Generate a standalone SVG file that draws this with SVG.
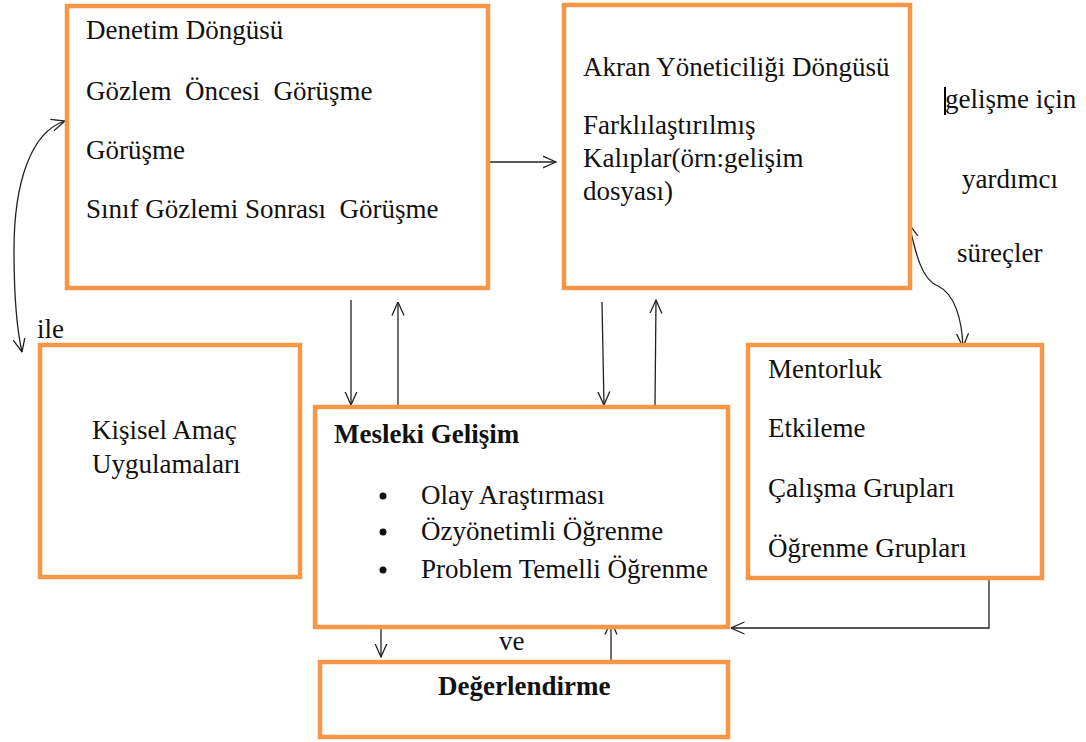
<svg xmlns="http://www.w3.org/2000/svg" width="1086" height="742" viewBox="0 0 1086 742">
<style>
.box{fill:#fff;stroke:#F79646;stroke-width:4.5}
text{font-family:"Liberation Serif","Times New Roman",serif;font-size:27px;fill:#111}
.b{font-weight:bold}
.c{fill:none;stroke:#222;stroke-width:1.3}
</style>
<defs>
<marker id="a" viewBox="0 0 14 14" refX="13.5" refY="7" markerWidth="14" markerHeight="14" markerUnits="userSpaceOnUse" orient="auto-start-reverse">
<path d="M0,1 L13.5,7 L0,13" fill="none" stroke="#222" stroke-width="1.3"/>
</marker>
</defs>
<rect width="1086" height="742" fill="#fff"/>
<g id="connectors">
<line class="c" x1="490" y1="162" x2="556" y2="162" marker-end="url(#a)"/>
<line class="c" x1="351" y1="300" x2="351" y2="405" marker-end="url(#a)"/>
<line class="c" x1="398" y1="406" x2="398" y2="302" marker-end="url(#a)"/>
<line class="c" x1="602" y1="302" x2="604" y2="405" marker-end="url(#a)"/>
<line class="c" x1="655" y1="406" x2="656" y2="300" marker-end="url(#a)"/>
<line class="c" x1="381" y1="628" x2="381" y2="657" marker-end="url(#a)"/>
<line class="c" x1="611" y1="662" x2="611" y2="621" marker-end="url(#a)"/>
<path class="c" d="M989,578 V628 H731" marker-end="url(#a)"/>
<path class="c" d="M65,121 C30,132 14,185 14,250 C14,300 17,330 22,352" marker-start="url(#a)" marker-end="url(#a)"/>
<path class="c" d="M909,224 C916,255 922,280 938,286 C955,294 962,320 963,347" marker-start="url(#a)" marker-end="url(#a)"/>
</g>
<g id="denetim">
<rect class="box" x="67" y="6" width="421" height="282"/>
<text x="86" y="39">Denetim Döngüsü</text>
<text x="86" y="100" xml:space="preserve">Gözlem  Öncesi  Görüşme</text>
<text x="86" y="159">Görüşme</text>
<text x="86" y="218" xml:space="preserve">Sınıf Gözlemi Sonrası  Görüşme</text>
</g>
<g id="akran">
<rect class="box" x="564" y="5" width="346" height="283"/>
<text x="583" y="76">Akran Yöneticiliği Döngüsü</text>
<text x="583" y="134">Farklılaştırılmış</text>
<text x="583" y="167">Kalıplar(örn:gelişim</text>
<text x="583" y="200">dosyası)</text>
</g>
<g id="surecler">
<rect x="944" y="87" width="2" height="28" fill="#000"/>
<text x="945" y="108">gelişme için</text>
<text x="962" y="188">yardımcı</text>
<text x="957" y="262">süreçler</text>
</g>
<g id="kisisel">
<rect class="box" x="40" y="345" width="260" height="232"/>
<text x="92" y="439">Kişisel Amaç</text>
<text x="92" y="473">Uygulamaları</text>
</g>
<g id="ile">
<text x="37" y="338">ile</text>
</g>
<g id="mesleki">
<rect class="box" x="315" y="407" width="413" height="220"/>
<text class="b" x="334" y="443">Mesleki Gelişim</text>
<circle cx="383" cy="496" r="3.5" fill="#111"/>
<circle cx="383" cy="532" r="3.5" fill="#111"/>
<circle cx="383" cy="570" r="3.5" fill="#111"/>
<text x="421" y="504">Olay Araştırması</text>
<text x="421" y="540">Özyönetimli Öğrenme</text>
<text x="421" y="578">Problem Temelli Öğrenme</text>
</g>
<g id="mentorluk">
<rect class="box" x="748" y="345" width="294" height="233"/>
<text x="768" y="378">Mentorluk</text>
<text x="768" y="437">Etkileme</text>
<text x="768" y="497">Çalışma Grupları</text>
<text x="768" y="557">Öğrenme Grupları</text>
</g>
<g id="ve">
<text x="499" y="650">ve</text>
</g>
<g id="degerlendirme">
<rect class="box" x="320" y="662" width="408" height="75"/>
<text class="b" x="438" y="695">Değerlendirme</text>
</g>
</svg>
